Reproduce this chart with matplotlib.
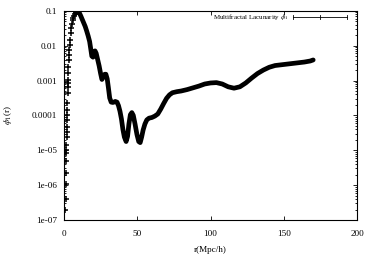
import numpy as np
import matplotlib
matplotlib.use("Agg")
import matplotlib.pyplot as plt
from matplotlib.ticker import LogLocator, NullFormatter, FixedLocator

plt.rcParams['font.family'] = ['Liberation Serif', 'DejaVu Serif']
plt.rcParams['mathtext.fontset'] = 'stix'

# steep rise at small r (single '+' points)
r_rise = [1.0, 1.1, 1.2, 1.3, 1.4, 1.5, 1.6, 1.7, 1.8, 1.9, 2.0, 2.1, 2.2, 2.3,
          2.4, 2.5, 2.6, 2.7, 2.8, 2.9, 3.0, 3.2, 3.4, 3.6, 3.8, 4.0, 4.5, 5.0,
          5.5, 6.0, 6.5, 7.0, 7.5, 8.0, 8.5, 9.0]
log_rise = [-6.70, -6.41, -5.98, -5.64, -5.32, -5.07, -4.98, -4.84, -4.61, -4.47,
            -4.32, -4.12, -3.98, -3.84, -3.64, -3.35, -3.18, -3.06, -2.98, -2.78,
            -2.61, -2.41, -2.27, -2.12, -1.98, -1.84, -1.64, -1.49, -1.38, -1.27,
            -1.20, -1.15, -1.10, -1.07, -1.04, -1.03]

# main curve (dense points, drawn as a thick line)
r_main = [9.0, 9.75, 10.5, 11.5, 12.5, 13.5, 14.5, 15.5, 16.5, 17.5, 18.3, 19.0,
          19.8, 20.5, 21.2, 22.0, 23.0, 24.0, 25.0, 25.9, 26.8, 27.8, 28.6, 29.5,
          30.3, 31.2, 32.2, 33.5, 35.0, 36.2, 37.2, 38.2, 39.2, 40.2, 41.2, 42.4,
          43.4, 44.3, 45.3, 46.3, 47.3, 48.5, 49.8, 51.0, 52.0, 53.0, 54.0, 55.2,
          56.5, 58.0, 60.0, 62.0, 64.0, 66.0, 68.0, 70.0, 72.0, 74.0, 77.0, 80.0,
          84.0, 88.0, 92.0, 96.0, 100.0, 104.0, 108.0, 112.0, 116.0, 120.0, 124.0,
          128.0, 132.0, 136.0, 140.0, 144.0, 148.0, 152.0, 156.0, 160.0, 164.0,
          168.0, 170.0]
log_main = [-1.03, -1.02, -1.06, -1.15, -1.25, -1.35, -1.45, -1.58, -1.72, -1.88,
            -2.10, -2.30, -2.33, -2.20, -2.15, -2.22, -2.40, -2.58, -2.80, -2.97,
            -2.90, -2.82, -2.82, -2.95, -3.20, -3.50, -3.62, -3.63, -3.60, -3.62,
            -3.72, -3.88, -4.10, -4.40, -4.62, -4.75, -4.60, -4.25, -3.98, -3.92,
            -4.00, -4.25, -4.55, -4.75, -4.78, -4.62, -4.42, -4.25, -4.13, -4.08,
            -4.06, -4.02, -3.96, -3.82, -3.66, -3.51, -3.41, -3.35, -3.32, -3.30,
            -3.26, -3.21, -3.16, -3.10, -3.07, -3.06, -3.10, -3.18, -3.22, -3.18,
            -3.07, -2.93, -2.80, -2.70, -2.62, -2.57, -2.55, -2.53, -2.51, -2.49,
            -2.47, -2.44, -2.41]

x_ticks = [0, 50, 100, 150, 200]
y_ticks = [1e-7, 1e-6, 1e-5, 1e-4, 1e-3, 1e-2, 1e-1]
y_labels = ['1e-07', '1e-06', '1e-05', '0.0001', '0.001', '0.01', '0.1']

phi_rise = 10 ** np.array(log_rise)
phi_main = 10 ** np.array(log_main)

fig = plt.figure(figsize=(3.74, 2.63), dpi=100)
ax = fig.add_axes([0.171, 0.1635, 0.784, 0.7955])

ax.plot(r_rise, phi_rise, '+', color='black', markersize=4, markeredgewidth=1.1)
ax.plot(r_main, phi_main, '-', color='black', lw=3.4, solid_capstyle='round')

ax.set_yscale('log')
ax.set_xlim(0, 200)
ax.set_ylim(1e-7, 0.1)
ax.xaxis.set_major_locator(FixedLocator(x_ticks))
ax.yaxis.set_major_locator(FixedLocator(y_ticks))
ax.set_yticklabels(y_labels)
ax.yaxis.set_minor_locator(LogLocator(base=10, subs=np.arange(2, 10), numticks=20))
ax.yaxis.set_minor_formatter(NullFormatter())

ax.tick_params(which='both', direction='in', top=True, right=True,
               labelsize=6.6, width=0.6)
ax.tick_params(axis='x', pad=7)
ax.tick_params(axis='y', pad=5)
ax.tick_params(which='major', length=3)
ax.tick_params(which='minor', length=1.6)
for s in ax.spines.values():
    s.set_linewidth(0.8)

ax.set_xlabel('r(Mpc/h)', fontsize=6.6, labelpad=6)
ax.set_ylabel(r'$\phi_1$(r)', fontsize=6.6, labelpad=13)

# key drawn gnuplot-style (errorbar sample)
ax.text(0.765, 0.97, r'Multifractal Lacunarity $\phi_1$', transform=ax.transAxes,
        ha='right', va='center', fontsize=5)
ax.plot([0.78, 0.966], [0.97, 0.97], transform=ax.transAxes, color='black', lw=0.6)
for xc in [0.78, 0.873, 0.966]:
    ax.plot([xc, xc], [0.96, 0.98], transform=ax.transAxes, color='black', lw=0.6)

fig.savefig('out.png', dpi=100)
